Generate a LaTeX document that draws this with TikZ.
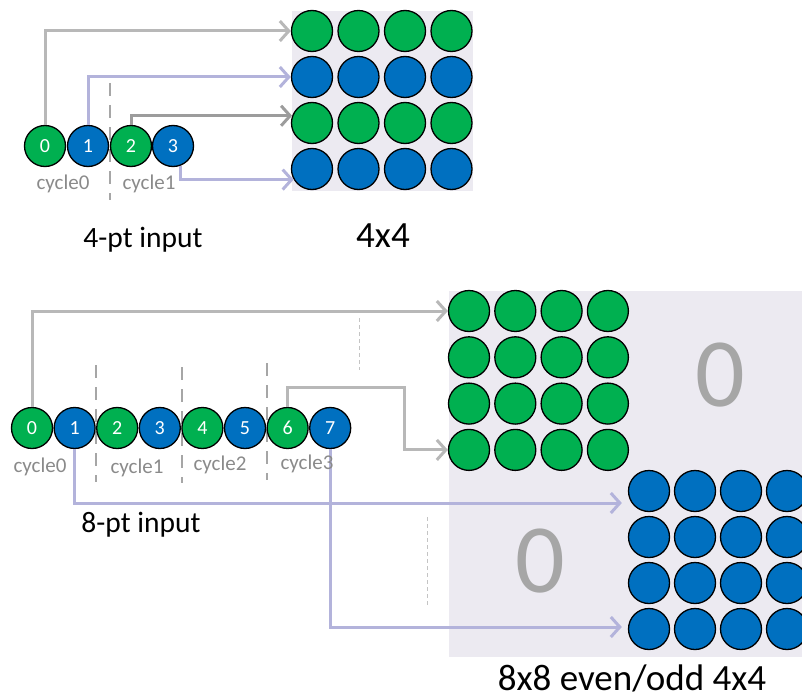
\documentclass[tikz,border=0pt]{standalone}
\usepackage{fontspec}
\setmainfont{Carlito}
\usetikzlibrary{arrows.meta}
\definecolor{cgreen}{HTML}{00B050}
\definecolor{cblue}{HTML}{0070C0}
\definecolor{panel}{HTML}{ECEAF1}
\definecolor{linegray}{HTML}{B8B8B8}
\definecolor{linedark}{HTML}{9C9C9C}
\definecolor{linelav}{HTML}{B3B3DB}
\definecolor{divgray}{HTML}{A6A6A6}
\definecolor{thingray}{HTML}{C4C4C4}
\definecolor{labgray}{HTML}{8A8A8A}
\definecolor{zerogray}{HTML}{A6A6A6}

\begin{document}
\begin{tikzpicture}[x=1pt,y=-1pt,
  dot/.style={circle,draw=black,line width=1.3pt,minimum size=41pt,inner sep=0pt},
  gdot/.style={dot,fill=cgreen},
  bdot/.style={dot,fill=cblue},
  num/.style={text=white,font=\fontsize{20}{20}\selectfont},
  link/.style={line width=3pt,-{Straight Barb[length=9pt,width=20pt]}},
  cycdiv/.style={draw=divgray,line width=2pt,dash pattern=on 13pt off 9pt},
  thindiv/.style={draw=thingray,line width=1pt,dash pattern=on 4pt off 3pt},
  cyclab/.style={text=labgray,font=\fontsize{21}{21}\selectfont,anchor=base,inner sep=0pt},
  caption/.style={font=\fontsize{29.5}{29.5}\selectfont,anchor=base,inner sep=0pt},
  bigcap/.style={font=\fontsize{37}{37}\selectfont,anchor=base,inner sep=0pt},
  zero/.style={text=zerogray,font=\fontsize{98}{98}\selectfont,inner sep=0pt}
]
\useasboundingbox (0,0) rectangle (802,698);

% matrix backgrounds
\fill[panel] (292,11) rectangle (473,191);
\fill[panel] (449,291) rectangle (802,657);

% cycle separators
\draw[cycdiv] (110,83) -- (110,200);
\draw[cycdiv] (96,365) -- (96,482);
\draw[cycdiv] (182,367) -- (182,483);
\draw[cycdiv] (267,363) -- (267,480);
\draw[thindiv] (359,318) -- (359,370);
\draw[thindiv] (427,517) -- (427,607);

% 4-point input
\node[gdot,num] (t0) at (45,146) {0};
\node[bdot,num] (t1) at (88,146) {1};
\node[gdot,num] (t2) at (131,146) {2};
\node[bdot,num] (t3) at (173,146) {3};

% 4x4 matrix
\foreach \r/\sty in {0/gdot,1/bdot,2/gdot,3/bdot}
  \foreach \c in {0,...,3}
    \node[\sty] (g\r\c) at ({312+46.5*\c},{31+46*\r}) {};

% 8-point input
\foreach \i/\sty in {0/gdot,1/bdot,2/gdot,3/bdot,4/gdot,5/bdot,6/gdot,7/bdot}
  \node[\sty,num] (b\i) at ({32+42.6*\i},428) {\i};

% even / odd 4x4 blocks of the 8x8
\foreach \r in {0,...,3}
  \foreach \c in {0,...,3}{
    \node[gdot] (G\r\c) at ({469+46.3*\c},{311+46.3*\r}) {};
    \node[bdot] (B\r\c) at ({649+46*\c},{491+46*\r}) {};
  }

% routing for the 4-point case
\draw[link,linegray] (t0.north) |- (g00.west);
\draw[link,linelav] (t1.north) |- (g10.west);
\draw[link,linedark] (t2.north) |- (g20.160);
\draw[link,linelav] (t3.-70) |- (g30.210);

% routing for the 8-point case
\coordinate (k6) at (404,387);
\draw[link,linegray] (b0.north) |- (G00.west);
\draw[link,linegray] (b6.north) |- (k6) |- (G30.west);
\draw[link,linelav,shorten >=6pt] (b1.south) |- ([yshift=-12pt]B00.west);
\draw[link,linelav,shorten >=6pt] (b7.south) |- ([yshift=2pt]B30.west);

% cycle labels
\node[cyclab] at (63,189) {cycle0};
\node[cyclab] at (149,189) {cycle1};
\node[cyclab] at (40,472) {cycle0};
\node[cyclab] at (137,473) {cycle1};
\node[cyclab] at (220,470) {cycle2};
\node[cyclab] at (307,469) {cycle3};

% captions
\node[caption] at (143,247) {4-pt input};
\node[bigcap] at (383,247) {4x4};
\node[caption] at (141,532) {8-pt input};
\node[bigcap] at (632,690) {8x8 even/odd 4x4};

% zero quadrants
\node[zero] at (720,375) {0};
\node[zero] at (540,561) {0};
\end{tikzpicture}
\end{document}
